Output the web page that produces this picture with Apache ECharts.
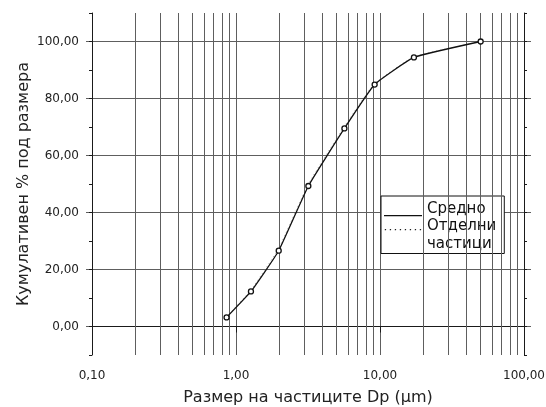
<!DOCTYPE html>
<html><head><meta charset="utf-8">
<script src="https://cdn.jsdelivr.net/npm/echarts@6/dist/echarts.min.js"></script>
<style>html,body{margin:0;padding:0;background:#fff}#c{width:546px;height:407px}</style>
</head><body><div id="c"></div>
<script>
// ---- data ----
const sizes = [0.86, 1.27, 1.98, 3.18, 5.66, 9.18, 17.2, 50];
const meanValues = [3.2, 12.3, 26.6, 49.3, 69.5, 84.9, 94.4, 100];
const particleValues = [3.4, 12.8, 27.4, 50.0, 70.2, 85.3, 94.6, 100];
const minorGridSizes = [0.2, 0.3, 0.4, 0.5, 0.6, 0.7, 0.8, 0.9, 2, 3, 4, 5, 6, 7, 8, 9, 20, 30, 40, 50, 60, 70, 80, 90];
const xTickValues = [0.1, 1, 10, 100];
const yTickValues = [0, 20, 40, 60, 80, 100];
const seriesNames = ['Средно', 'Отделни\nчастици'];
const xTitle = 'Размер на частиците Dp (µm)';
const yTitle = 'Кумулативен % под размера';

const FONT = 'DejaVu Sans';
const GRID_COLOR = '#5e5e5e';
const AXIS_COLOR = '#1a1a1a';
const TEXT_COLOR = '#222';
const fmt = v => Number(v).toFixed(2).replace('.', ',');

const solidIcon = 'path://M0,0L38,0L38,0.001Z M0,13.8L38,13.8L38,15L0,15Z';
let dots = 'path://M0,0L38,0L38,0.001Z M0,15L38,15L38,14.999Z';
for (let i = 0; i < 8; i++) {
  const x = 0.8 + i * 5;
  dots += ` M${x},1.5L${x + 1.3},1.5L${x + 1.3},2.8L${x},2.8Z`;
}
const dottedIcon = dots;

const chart = echarts.init(document.getElementById('c'), null, {renderer: 'canvas'});
chart.setOption({
  animation: false,
  textStyle: {fontFamily: FONT},
  grid: [
    {left: 92, right: 22, top: 13, bottom: 52, outerBoundsMode: 'none'},
    {left: 86, right: 15, top: 41.5, bottom: 80.5, outerBoundsMode: 'none'}
  ],
  xAxis: [
    {
      type: 'log', logBase: 10, gridIndex: 0, min: xTickValues[0], max: xTickValues[xTickValues.length - 1],
      axisLine: {show: true, lineStyle: {color: AXIS_COLOR, width: 1}},
      axisTick: {show: true, length: 6, lineStyle: {color: AXIS_COLOR}},
      axisLabel: {formatter: fmt, fontSize: 12, color: TEXT_COLOR, margin: 15, fontFamily: FONT, showMinLabel: true, showMaxLabel: true},
      splitLine: {show: true, lineStyle: {color: GRID_COLOR, width: 1}},
      name: xTitle, nameLocation: 'middle', nameGap: 35, nameMoveOverlap: false,
      nameTextStyle: {fontSize: 16, color: TEXT_COLOR, fontFamily: FONT}
    },
    {type: 'value', gridIndex: 1, min: 0, max: 1, show: false}
  ],
  yAxis: [
    {
      type: 'value', gridIndex: 0, min: -10, max: 110, interval: 10, position: 'left',
      axisLine: {show: true, lineStyle: {color: AXIS_COLOR}},
      axisTick: {show: true, length: 3, lineStyle: {color: AXIS_COLOR}},
      axisLabel: {show: false}, splitLine: {show: false},
      name: yTitle, nameLocation: 'middle', nameGap: 60, nameMoveOverlap: false,
      nameTextStyle: {fontSize: 16, color: TEXT_COLOR, fontFamily: FONT}
    },
    {
      type: 'value', gridIndex: 0, min: -10, max: 110, interval: 10, position: 'right',
      axisLine: {show: true, lineStyle: {color: AXIS_COLOR}},
      axisTick: {show: true, length: 3, lineStyle: {color: AXIS_COLOR}},
      axisLabel: {show: false}, splitLine: {show: false}
    },
    {
      type: 'value', gridIndex: 1, min: yTickValues[0], max: yTickValues[yTickValues.length - 1], interval: 20,
      axisLine: {show: false}, axisTick: {show: false},
      axisLabel: {formatter: fmt, fontSize: 12, color: TEXT_COLOR, margin: 7, fontFamily: FONT},
      splitLine: {show: true, lineStyle: {color: GRID_COLOR, width: 1}}
    }
  ],
  legend: {
    orient: 'vertical', left: 381, top: 196,
    data: [
      {name: seriesNames[0], icon: solidIcon, itemStyle: {color: '#111', borderWidth: 0}},
      {name: seriesNames[1], icon: dottedIcon, itemStyle: {color: '#222', borderWidth: 0}}
    ],
    itemWidth: 38, itemHeight: 15, itemGap: 0, symbolKeepAspect: true,
    padding: [4, 8, 1, 3],
    backgroundColor: '#fff', borderColor: '#111', borderWidth: 1, borderRadius: 0,
    textStyle: {fontSize: 15, lineHeight: 17.5, color: '#111', fontFamily: FONT},
    selectedMode: false
  },
  series: [
    {
      name: 'grid', type: 'line', xAxisIndex: 0, yAxisIndex: 0, z: 1, silent: true,
      data: sizes.map((x, i) => [x, meanValues[i]]),
      symbol: 'none', lineStyle: {opacity: 0}, emphasis: {disabled: true},
      markLine: {
        silent: true, symbol: ['none', 'none'], label: {show: false}, animation: false,
        lineStyle: {color: GRID_COLOR, type: 'solid', width: 1},
        emphasis: {disabled: true},
        data: minorGridSizes.map(v => ({xAxis: v}))
      }
    },
    {
      name: seriesNames[1], type: 'line', xAxisIndex: 0, yAxisIndex: 0, z: 4,
      data: sizes.map((x, i) => [x, particleValues[i]]),
      smooth: 0.12, symbol: 'none',
      lineStyle: {color: '#9a9a9a', width: 1, type: [1, 3]},
      emphasis: {disabled: true}
    },
    {
      name: seriesNames[0], type: 'line', xAxisIndex: 0, yAxisIndex: 0, z: 5,
      data: sizes.map((x, i) => [x, meanValues[i]]),
      smooth: 0.12, symbol: 'circle', symbolSize: 5, showSymbol: true,
      itemStyle: {color: '#fff', borderColor: '#111', borderWidth: 1.3},
      lineStyle: {color: '#111', width: 1.3},
      emphasis: {disabled: true}
    }
  ]
});
</script>
</body></html>
